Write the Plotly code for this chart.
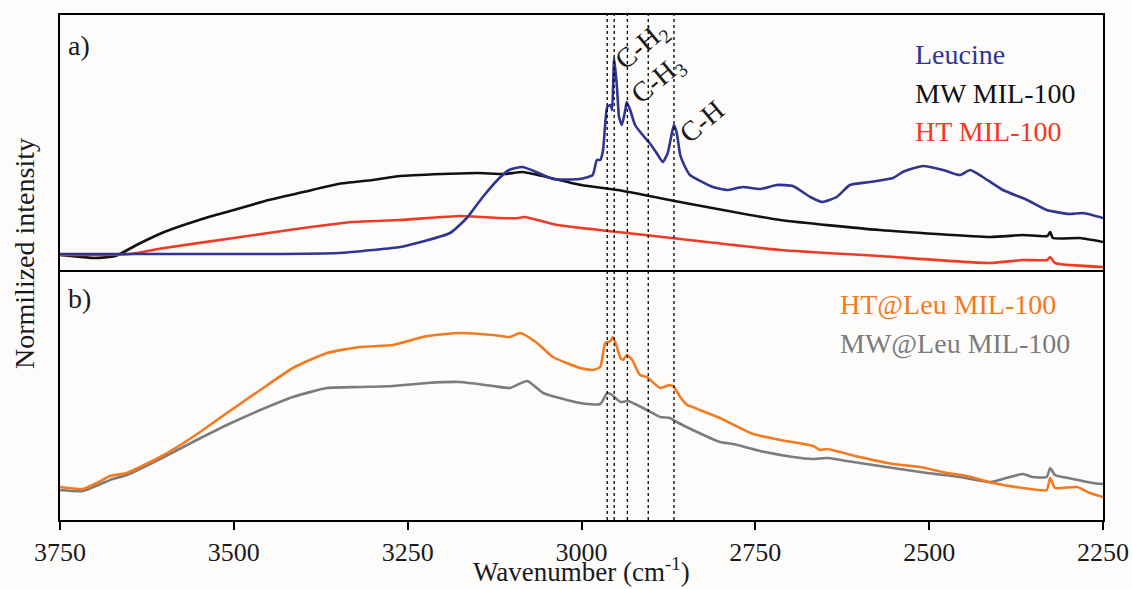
import plotly.graph_objects as go
from plotly.subplots import make_subplots

# ---------------- data (panel a: intensity 0-255, panel b: 0-250) ----------------
leu_x = [3750, 3600, 3450, 3350, 3300, 3261, 3189, 3165, 3142, 3118, 3104, 3085, 3065, 3041, 3003,
         2984, 2978, 2973, 2969, 2966, 2963, 2958, 2956, 2953, 2949, 2946, 2942, 2937, 2935, 2930,
         2923, 2912, 2902, 2892, 2883, 2876, 2870, 2867, 2863, 2858, 2851, 2844, 2811, 2791, 2768,
         2743, 2719, 2696, 2671, 2654, 2633, 2614, 2585, 2552, 2538, 2509, 2480, 2456, 2441, 2423,
         2394, 2359, 2331, 2298, 2279, 2250]
leu_y = [16, 16, 16, 17, 20, 23, 37, 52, 73, 92, 100, 103, 98, 91, 91,
         95, 110, 110, 120, 145, 163, 165, 160, 212, 183, 153, 145, 160, 168, 160,
         145, 135, 127, 117, 108, 117, 137, 145, 137, 115, 103, 95, 83, 80, 83,
         81, 85, 84, 73, 68, 73, 85, 88, 92, 98, 104, 100, 95, 100, 93,
         80, 70, 60, 56, 57, 52]

mw_x = [3750, 3720, 3700, 3670, 3640, 3600, 3550, 3500, 3450, 3400, 3350, 3300, 3261, 3200, 3150,
        3110, 3085, 3050, 3000, 2948, 2858, 2714, 2571, 2412, 2365, 2330, 2326, 2322, 2283, 2250]
mw_y = [15, 13, 12, 14, 25, 38, 50, 60, 70, 78, 86, 90, 94, 96, 97,
        96, 98, 93, 85, 80, 68, 50, 40, 33, 35, 34, 38, 32, 32, 28]

ht_x = [3750, 3700, 3650, 3600, 3500, 3400, 3330, 3261, 3175, 3118, 3090, 3082, 3035, 2948, 2858,
        2714, 2571, 2412, 2365, 2330, 2326, 2319, 2250]
ht_y = [15, 15, 16, 22, 32, 42, 48, 50, 54, 52, 52, 53, 45, 38, 31,
        20, 14, 7, 10, 10, 13, 7, 3]

htleu_x = [3750, 3717, 3697, 3678, 3654, 3606, 3559, 3510, 3462, 3415, 3366, 3319, 3271, 3222, 3175,
           3127, 3103, 3088, 3064, 3041, 3002, 2983, 2973, 2966, 2962, 2958, 2955, 2950, 2944, 2940,
           2935, 2927, 2916, 2906, 2887, 2873, 2867, 2858, 2848, 2840, 2830, 2801, 2753, 2714, 2667,
           2657, 2647, 2600, 2552, 2513, 2474, 2446, 2408, 2365, 2331, 2326, 2319, 2287, 2269, 2250]
htleu_y = [33, 31, 37, 44, 47, 63, 83, 107, 130, 152, 167, 173, 175, 184, 187,
           185, 183, 187, 177, 163, 152, 150, 153, 177, 178, 179, 183, 175, 162, 160,
           165, 160, 145, 143, 132, 135, 133, 123, 115, 113, 110, 102, 86, 80, 74,
           70, 71, 63, 56, 53, 47, 44, 37, 32, 30, 42, 32, 33, 27, 23]

mwleu_x = [3750, 3717, 3678, 3654, 3606, 3559, 3510, 3462, 3415, 3366, 3319, 3271, 3222, 3175, 3127,
           3103, 3078, 3055, 3002, 2973, 2963, 2956, 2944, 2933, 2920, 2906, 2887, 2873, 2863, 2840,
           2801, 2782, 2743, 2696, 2667, 2647, 2600, 2552, 2503, 2456, 2412, 2394, 2365, 2351, 2331,
           2326, 2319, 2293, 2264, 2250]
mwleu_y = [30, 29, 40, 45, 61, 78, 95, 110, 123, 132, 133, 134, 137, 138, 134,
           132, 139, 127, 117, 116, 127, 125, 118, 119, 115, 110, 103, 102, 98, 90,
           78, 76, 69, 63, 61, 62, 57, 52, 47, 43, 38, 41, 46, 43, 43,
           52, 45, 41, 37, 36]

peak_lines = [2963, 2953, 2934, 2904, 2867]
tick_vals = [3750, 3500, 3250, 3000, 2750, 2500, 2250]

C_BLUE = "#2e3592"
C_BLACK = "#111111"
C_RED = "#ee3b25"
C_ORANGE = "#f47a20"
C_GRAY = "#7c7c7c"
FONT = "Liberation Serif"

W, H = 1132, 589
L, R, T, B = 60, 29, 15, 69
PW, PH = W - L - R, H - T - B


def px(xp):
    return (xp - L) / PW


def py(yp):
    return (H - B - yp) / PH


split = (H - B - 270) / PH

fig = make_subplots(rows=2, cols=1, shared_xaxes=True, vertical_spacing=0)

lw = 2.6
sm = dict(shape="spline", smoothing=0.5)
fig.add_trace(go.Scatter(x=mw_x, y=mw_y, mode="lines", line=dict(color=C_BLACK, width=lw, **sm)), row=1, col=1)
fig.add_trace(go.Scatter(x=ht_x, y=ht_y, mode="lines", line=dict(color=C_RED, width=lw, **sm)), row=1, col=1)
fig.add_trace(go.Scatter(x=leu_x, y=leu_y, mode="lines", line=dict(color=C_BLUE, width=lw, **sm)), row=1, col=1)
fig.add_trace(go.Scatter(x=mwleu_x, y=mwleu_y, mode="lines", line=dict(color=C_GRAY, width=lw, **sm)), row=2, col=1)
fig.add_trace(go.Scatter(x=htleu_x, y=htleu_y, mode="lines", line=dict(color=C_ORANGE, width=lw, **sm)), row=2, col=1)

base = dict(showline=True, linecolor="black", linewidth=2, showgrid=False, zeroline=False, automargin=False)

fig.update_layout(
    template="none",
    width=W, height=H, margin=dict(l=L, r=R, t=T, b=B, pad=0),
    paper_bgcolor="#fdfcfb", plot_bgcolor="#fdfcfb",
    showlegend=False,
    font=dict(family=FONT, color="#1a1a1a", size=26),
    xaxis=dict(range=[3750, 2250], ticks="", showticklabels=False, mirror=True, **base),
    xaxis2=dict(range=[3750, 2250], tickvals=tick_vals, ticktext=[str(v) for v in tick_vals],
                ticks="outside", ticklen=8, tickwidth=2, tickcolor="black", mirror=False,
                tickfont=dict(family=FONT, size=26, color="#1a1a1a"), **base),
    yaxis=dict(domain=[split, 1], range=[0, 255], showticklabels=False, ticks="", mirror=True, **base),
    yaxis2=dict(domain=[0, split], range=[0, 250], showticklabels=False, ticks="", mirror=True, **base),
)

for v in peak_lines:
    fig.add_shape(type="line", xref="x2", yref="paper", x0=v, x1=v, y0=0, y1=1,
                  line=dict(color="black", width=1.3, dash="dot"), layer="above")

ann = []


def text(s, xp, yp, color="#1a1a1a", size=28, xanchor="left", angle=0, yanchor="middle"):
    ann.append(dict(text=s, x=px(xp), y=py(yp), xref="paper", yref="paper", showarrow=False,
                    xanchor=xanchor, yanchor=yanchor, textangle=angle,
                    font=dict(family=FONT, size=size, color=color)))


text("a)", 66, 45)
text("b)", 66, 298)
text("Leucine", 913, 55, C_BLUE)
text("MW MIL-100", 913, 93, C_BLACK)
text("HT MIL-100", 913, 131, C_RED)
text("HT@Leu MIL-100", 838, 304, C_ORANGE)
text("MW@Leu MIL-100", 838, 343, C_GRAY)
text("C-H<sub>2</sub>", 642, 46, xanchor="center", angle=-40)
text("C-H<sub>3</sub>", 658, 80, xanchor="center", angle=-40)
text("C-H", 702, 122, xanchor="center", angle=-40)
text("Wavenumber (cm<sup>-1</sup>)", 581, 589, xanchor="center", yanchor="bottom", size=27)
text("Normilized intensity", 24, 254, xanchor="center", angle=-90)

fig.update_layout(annotations=ann)
fig.write_html("out.html")
